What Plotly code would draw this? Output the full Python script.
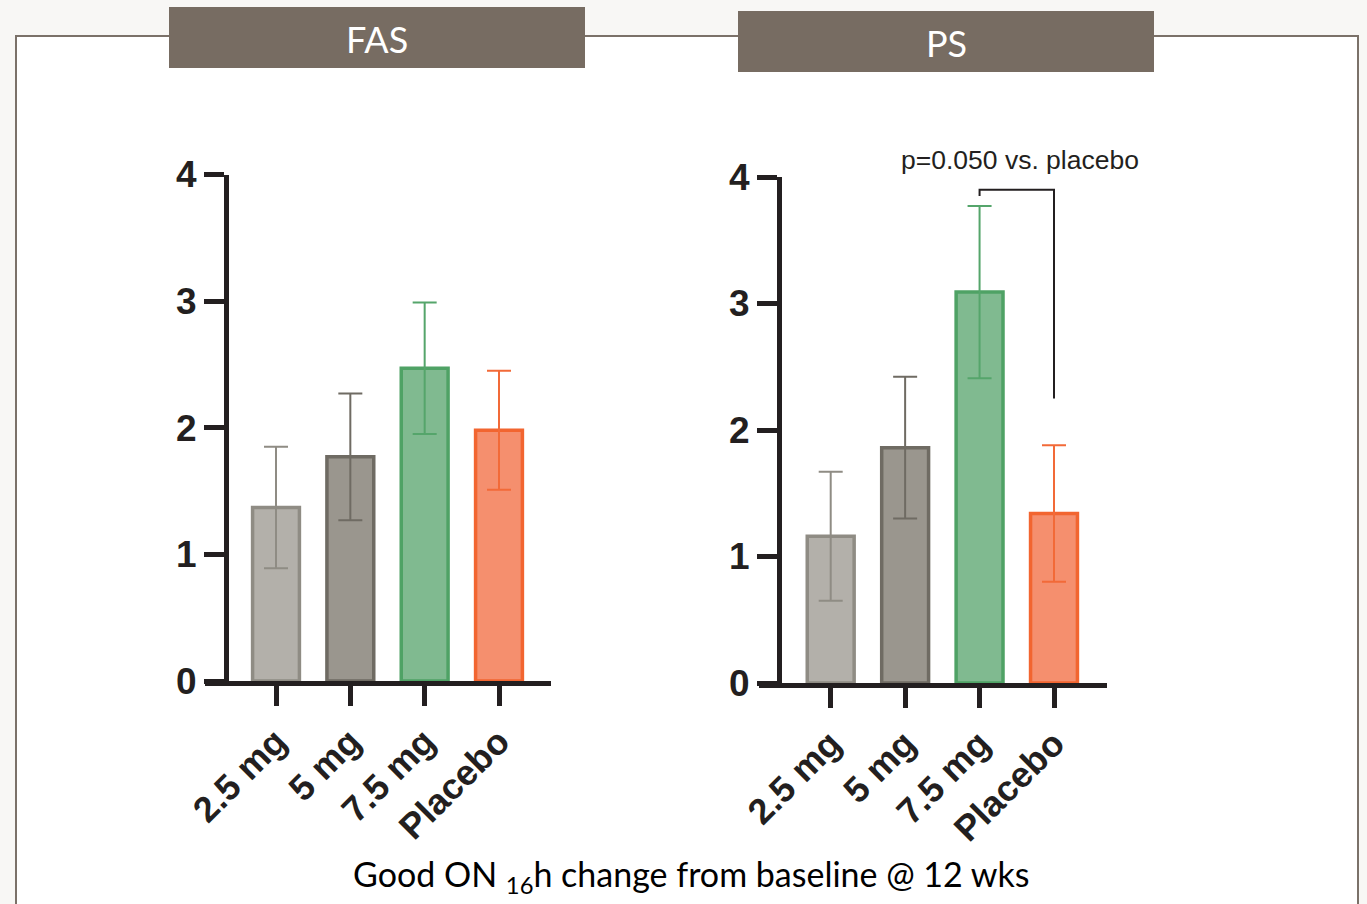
import plotly.graph_objects as go

W, H = 1367, 904

# ---------------- data ----------------
categories = ["2.5 mg", "5 mg", "7.5 mg", "Placebo"]
fas_mean = [1.37, 1.77, 2.47, 1.98]
fas_err = [0.48, 0.50, 0.52, 0.47]
ps_mean = [1.16, 1.86, 3.09, 1.34]
ps_err = [0.51, 0.56, 0.68, 0.54]
panel_titles = ["FAS", "PS"]
y_ticks = [0, 1, 2, 3, 4]
# significance bracket (PS): between 7.5 mg and Placebo
bracket_pair = ["7.5 mg", "Placebo"]
bracket_levels = [3.85, 3.90, 2.25]   # left end, top, right end
p_text = "p=0.050 vs. placebo"
x_caption = "Good ON <sub>16</sub>h change from baseline @ 12 wks"

# ---------------- styles ----------------
fill_colors = ["#b3b0aa", "#9a968e", "#80ba90", "#f58f6e"]
edge_colors = ["#8f8c84", "#6f6b63", "#4fa265", "#f26530"]
err_colors = ["#8f8c84", "#6f6b63", "#55a56b", "#f26a38"]
ink = "#231f20"
box_color = "#776c62"
AX_FONT = "Liberation Sans, Arial, sans-serif"
TITLE_FONT = "Lato, Open Sans, sans-serif"


def px(x):
    return x / W


def py(y):
    return 1 - y / H


fig = go.Figure()

for ax_idx, (means, errs) in enumerate([(fas_mean, fas_err), (ps_mean, ps_err)]):
    xa = "x" if ax_idx == 0 else "x2"
    ya = "y" if ax_idx == 0 else "y2"
    for i, cat in enumerate(categories):
        fig.add_trace(go.Bar(
            x=[cat], y=[means[i]],
            xaxis=xa, yaxis=ya,
            width=0.63,
            marker=dict(color=fill_colors[i], line=dict(color=edge_colors[i], width=3.5)),
            error_y=dict(type="data", array=[errs[i]], color=err_colors[i],
                         thickness=2, width=12),
            showlegend=False, hoverinfo="skip",
        ))

# panel geometry (pixels)
panels = [
    dict(xl=205, xr=551, yaxis_x=226, y0=681, y4=174.5,
         box=(169, 7, 585, 68)),
    dict(xl=759, xr=1107, yaxis_x=779, y0=683, y4=177,
         box=(738, 11, 1154, 72)),
]
centers = [[276, 350.7, 425, 499], [830.7, 905, 980, 1054]]

axis_common = dict(showgrid=False, zeroline=False, showline=True, linecolor=ink,
                   linewidth=5, ticks="outside", tickwidth=5, tickcolor=ink,
                   automargin=False)

for k, p in enumerate(panels):
    c = centers[k]
    step = (c[-1] - c[0]) / (len(c) - 1)
    r0 = (p["xl"] - c[0]) / step
    r1 = (p["xr"] - c[0]) / step
    xkey = "xaxis" if k == 0 else "xaxis2"
    ykey = "yaxis" if k == 0 else "yaxis2"
    fig.update_layout(**{
        xkey: dict(
            axis_common,
            domain=[px(p["xl"]), px(p["xr"])],
            anchor="y" if k == 0 else "y2",
            type="category", categoryorder="array", categoryarray=categories,
            range=[r0, r1], ticklen=20, tickangle=-45,
            tickfont=dict(family=AX_FONT, size=36, color=ink, weight="bold"),
        ),
        ykey: dict(
            axis_common,
            domain=[py(p["y0"]), py(p["y4"])],
            anchor="free", position=px(p["yaxis_x"]),
            range=[0, 4], tickvals=y_ticks, ticklen=20,
            tickfont=dict(family=AX_FONT, size=37, color=ink, weight="bold"),
        ),
    })

shapes = []
# outer frame
shapes.append(dict(type="rect", xref="paper", yref="paper",
                   x0=px(16), x1=px(1358), y0=py(960), y1=py(36),
                   line=dict(color="#7b7169", width=2), fillcolor="white", layer="below"))
annotations = []
for k, p in enumerate(panels):
    x0, y0, x1, y1 = p["box"]
    shapes.append(dict(type="rect", xref="paper", yref="paper",
                       x0=px(x0), x1=px(x1), y0=py(y1), y1=py(y0),
                       line=dict(width=0), fillcolor=box_color, layer="below"))
    annotations.append(dict(text=panel_titles[k], xref="paper", yref="paper",
                            x=px((x0 + x1) / 2), y=py((y0 + y1) / 2 + 1),
                            xanchor="center", yanchor="middle", showarrow=False,
                            font=dict(family=TITLE_FONT, size=36, color="white")))

# significance bracket on PS panel
bx0 = categories.index(bracket_pair[0])
bx1 = categories.index(bracket_pair[1])
shapes.append(dict(type="path", xref="x2", yref="y2",
                   path=f"M {bx0},{bracket_levels[0]} L {bx0},{bracket_levels[1]} "
                        f"L {bx1},{bracket_levels[1]} L {bx1},{bracket_levels[2]}",
                   line=dict(color=ink, width=2)))

annotations.append(dict(text=p_text, xref="paper", yref="paper",
                        x=px(1020), y=py(160), xanchor="center", yanchor="middle",
                        showarrow=False,
                        font=dict(family=AX_FONT, size=26.5, color=ink)))
annotations.append(dict(text=x_caption, xref="paper", yref="paper",
                        x=px(691), y=py(876), xanchor="center", yanchor="middle",
                        showarrow=False,
                        font=dict(family=TITLE_FONT, size=34, color="black")))

fig.update_layout(
    width=W, height=H,
    margin=dict(l=0, r=0, t=0, b=0, pad=0, autoexpand=False),
    paper_bgcolor="#f8f7f5", plot_bgcolor="rgba(0,0,0,0)",
    barmode="overlay", bargap=0,
    shapes=shapes, annotations=annotations,
    showlegend=False,
)

fig.write_html(
    "out.html",
    config={"displayModeBar": False, "staticPlot": True},
    post_script="document.body.style.margin='0';document.body.style.overflow='hidden';",
)
